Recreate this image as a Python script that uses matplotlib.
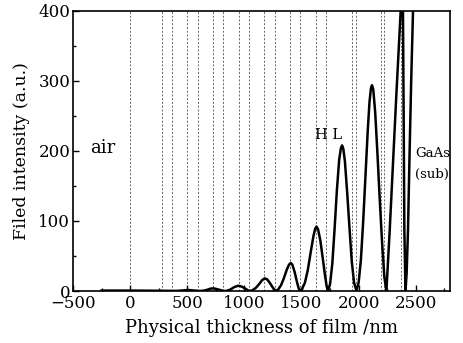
import numpy as np
import matplotlib
matplotlib.use("Agg")
import matplotlib.pyplot as plt
from matplotlib.ticker import MultipleLocator

# field intensity along the film (x in nm, y in a.u.)
thickness = [-250, -150, -50, 0, 100, 200, 275, 350, 400,
             450, 505, 560, 610,
             640, 670, 700, 721, 745, 775, 805, 828,
             850, 880, 910, 945, 975, 1005, 1030, 1047,
             1070, 1100, 1130, 1155, 1178, 1200, 1225, 1250, 1275,
             1295, 1320, 1345, 1370, 1390, 1406, 1420, 1440, 1460, 1475, 1485,
             1505, 1530, 1555, 1580, 1605, 1620, 1631, 1645, 1665, 1685, 1705, 1720, 1732,
             1750, 1770, 1790, 1810, 1830, 1845, 1855, 1866, 1880, 1900, 1920, 1940, 1960, 1981,
             2000, 2020, 2040, 2060, 2080, 2095, 2108, 2117, 2128, 2145, 2165, 2185, 2205, 2225, 2243,
             2272, 2300, 2330, 2368, 2376, 2388, 2394, 2400, 2410,
             2420, 2432, 2445, 2460, 2476, 2500, 2550, 2650, 2800]
intensity = [0.6, 0.6, 0.6, 0.6, 0.5, 0.4, 0.3, 0.2, 0.1,
             0.6, 1.5, 0.7, 0.0,
             0.4, 1.5, 3.2, 3.8, 3.3, 2.0, 0.6, 0.0,
             0.4, 2.3, 5.5, 7.5, 6.4, 3.7, 1.0, 0.0,
             1.0, 4.5, 10, 15.5, 18, 16.5, 11, 4.5, 0.0,
             2, 8, 18, 30, 37.5, 40, 37.5, 27, 13, 4, 0.0,
             3, 12, 30, 55, 79, 89, 92, 88, 72, 48, 23, 7, 0.0,
             10, 40, 90, 145, 188, 204, 208, 203, 185, 140, 90, 42, 12, 0.0,
             12, 45, 100, 165, 230, 270, 290, 294, 288, 255, 195, 130, 70, 20, 0.0,
             87, 180, 280, 400, 470, 400, 250, 90, 0.0,
             25, 87, 190, 300, 400, 550, 700, 800, 850]

# layer interfaces (dashed lines)
interfaces = [0, 275, 365, 500, 590, 725, 815, 950, 1040, 1175, 1265,
              1400, 1490, 1625, 1715, 1940, 1975, 2200, 2225, 2375]

plt.rcParams['font.family'] = ['DejaVu Serif']
plt.rcParams['mathtext.fontset'] = 'dejavuserif'

fig = plt.figure(figsize=(4.63, 3.43), dpi=100)
ax = fig.add_axes([0.1577, 0.1516, 0.972 - 0.1577, 0.968 - 0.1516])

for xi in interfaces:
  ax.axvline(xi, color="#555555", lw=0.6, ls=(0, (2.5, 2)), zorder=1)

ax.plot(thickness, intensity, color="black", lw=1.8, zorder=3)

ax.set_xlim(-500, 2800)
ax.set_ylim(0, 400)
ax.xaxis.set_major_locator(MultipleLocator(500))
ax.xaxis.set_minor_locator(MultipleLocator(250))
ax.yaxis.set_major_locator(MultipleLocator(100))
ax.yaxis.set_minor_locator(MultipleLocator(50))
ax.tick_params(which="both", direction="in", top=False, right=False,
               labelsize=12, width=1.0)
ax.tick_params(axis="x", pad=3)
ax.tick_params(axis="y", pad=2)
ax.tick_params(which="major", length=4)
ax.tick_params(which="minor", length=2)
for sp in ax.spines.values():
  sp.set_linewidth(1.2)

ax.set_xlabel("Physical thickness of film /nm", fontsize=13, labelpad=5)
ax.set_ylabel("Filed intensity (a.u.)", fontsize=12.5, labelpad=6)

ax.text(-244, 204, "air", fontsize=13, ha="center", va="center")
ax.text(1740, 223, "H L", fontsize=10.5, ha="center", va="center")
ax.text(2492, 197, "GaAs", fontsize=9.5, ha="left", va="center")
ax.text(2492, 166, "(sub)", fontsize=9.5, ha="left", va="center")

fig.savefig("out.png", dpi=100)
